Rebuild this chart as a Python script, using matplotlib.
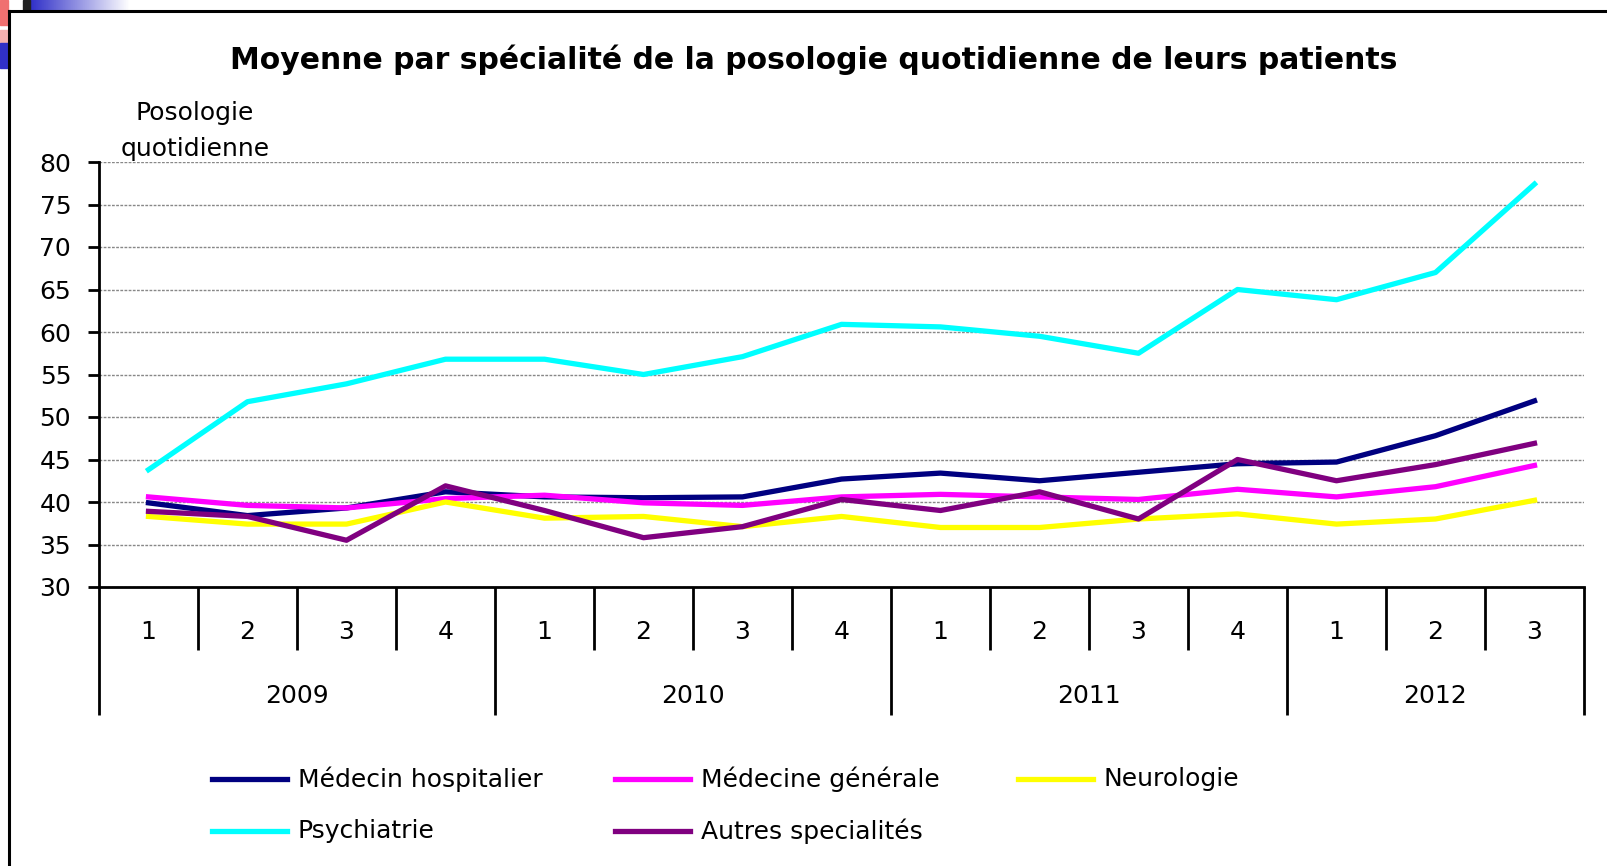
import matplotlib
matplotlib.use("Agg")
import matplotlib.pyplot as plt
import matplotlib.transforms as mtransforms
from matplotlib.lines import Line2D
from matplotlib.patches import Rectangle
import numpy as np

quarters = ["1", "2", "3", "4", "1", "2", "3", "4", "1", "2", "3", "4", "1", "2", "3"]
years = ["2009", "2010", "2011", "2012"]
year_sizes = [4, 4, 4, 3]

medecin_hosp = [39.9, 38.4, 39.3, 41.2, 40.6, 40.5, 40.6, 42.7, 43.4, 42.5, 43.5, 44.5, 44.7, 47.8, 51.9]
medecine_gen = [40.6, 39.6, 39.3, 40.4, 40.8, 39.9, 39.6, 40.6, 40.9, 40.6, 40.3, 41.5, 40.6, 41.8, 44.3]
neurologie = [38.3, 37.4, 37.4, 40.0, 38.1, 38.3, 37.1, 38.3, 37.0, 37.0, 38.0, 38.6, 37.4, 38.0, 40.2]
psychiatrie = [43.8, 51.8, 53.9, 56.8, 56.8, 55.0, 57.1, 60.9, 60.6, 59.5, 57.5, 65.0, 63.8, 67.0, 77.4]
autres = [38.9, 38.3, 35.5, 41.9, 39.0, 35.8, 37.1, 40.3, 39.0, 41.2, 38.0, 45.0, 42.5, 44.4, 46.9]

W, H = 1608, 866
font = "DejaVu Sans"
fs = 18

fig = plt.figure(figsize=(W / 100, H / 100), dpi=100)
ax = fig.add_axes([99 / W, 1 - 587 / H, (1584 - 99) / W, (587 - 162) / H])

x = np.arange(len(quarters))
lines = []
lines.append(ax.plot(x, medecin_hosp, color="#000080", lw=3.8, label="Médecin hospitalier")[0])
lines.append(ax.plot(x, medecine_gen, color="#FF00FF", lw=3.8, label="Médecine générale")[0])
lines.append(ax.plot(x, neurologie, color="#FFFF00", lw=3.8, label="Neurologie")[0])
lines.append(ax.plot(x, psychiatrie, color="#00FFFF", lw=3.8, label="Psychiatrie")[0])
lines.append(ax.plot(x, autres, color="#800080", lw=3.8, label="Autres specialités")[0])

ax.set_xlim(-0.5, len(quarters) - 0.5)
ax.set_ylim(30, 80)
ax.set_yticks(np.arange(30, 81, 5))
ax.yaxis.grid(True, color="#888888", linestyle=(0, (2, 1)), linewidth=1.0)
ax.set_axisbelow(True)
for s in ["top", "right"]:
    ax.spines[s].set_visible(False)
ax.spines["left"].set_linewidth(2)
ax.spines["bottom"].set_linewidth(2)
ax.tick_params(axis="y", direction="out", length=8, width=2, labelsize=fs, pad=12)
for lbl in ax.get_yticklabels():
    lbl.set_fontfamily(font)

# category separators: year boundaries long, quarter boundaries short
bounds_year = np.concatenate([[0], np.cumsum(year_sizes)]) - 0.5
bounds_q = [b - 0.5 for b in range(1, len(quarters)) if (b - 0.5) not in bounds_year]
ax.set_xticks(bounds_year)
ax.set_xticks(bounds_q, minor=True)
ax.set_xticklabels([])
ax.tick_params(axis="x", which="major", direction="out", length=92, width=2)
ax.tick_params(axis="x", which="minor", direction="out", length=45, width=2)

trans = mtransforms.blended_transform_factory(ax.transData, fig.transFigure)
for i, q in enumerate(quarters):
    ax.text(i, 1 - 632 / H, q, transform=trans, ha="center", va="center",
            fontsize=fs, family=font)
start = 0
for yr, n in zip(years, year_sizes):
    ax.text(start + (n - 1) / 2, 1 - 696 / H, yr, transform=trans, ha="center",
            va="center", fontsize=fs, family=font)
    start += n

fig.text(0.506, 1 - 60 / H, "Moyenne par spécialité de la posologie quotidienne de leurs patients",
         ha="center", va="center", fontsize=21.5, fontweight="bold", family=font)
fig.text(195 / W, 1 - 131 / H, "Posologie\nquotidienne", ha="center", va="center",
         fontsize=fs, family=font, linespacing=1.65)

# legend, laid out like the original (two rows, three columns)
leg_x = [212, 615, 1018]
leg_y = [779, 831]
for k, ln in enumerate(lines):
    r, c = divmod(k, 3)
    x0 = leg_x[c] / W
    y0 = 1 - leg_y[r] / H
    fig.add_artist(Line2D([x0, x0 + 75 / W], [y0, y0], color=ln.get_color(), lw=3.8,
                          transform=fig.transFigure))
    fig.text(x0 + 86 / W, y0, ln.get_label(), ha="left", va="center", fontsize=fs,
             family=font)

# slide frame and corner remnants
fig.add_artist(Line2D([9 / W, 9 / W], [0, 1 - 11 / H], color="black", lw=2.2,
                      transform=fig.transFigure))
fig.add_artist(Line2D([9 / W, 1], [1 - 11 / H, 1 - 11 / H], color="black", lw=2.2,
                      transform=fig.transFigure))
fig.add_artist(Rectangle((0, 1 - 25 / H), 8 / W, 25 / H, color="#f07070",
                         transform=fig.transFigure))
fig.add_artist(Rectangle((0, 1 - 43 / H), 8 / W, 13 / H, color="#f4b0b0",
                         transform=fig.transFigure))
fig.add_artist(Rectangle((0, 1 - 68 / H), 8 / W, 25 / H, color="#3030c8",
                         transform=fig.transFigure))
fig.add_artist(Rectangle((23 / W, 1 - 10 / H), 7 / W, 10 / H, color="#222222",
                         transform=fig.transFigure))
grad = np.linspace(0, 1, 100).reshape(1, -1)
gax = fig.add_axes([30 / W, 1 - 10 / H, 100 / W, 10 / H])
gax.imshow(grad, aspect="auto", cmap=matplotlib.colors.LinearSegmentedColormap.from_list(
    "g", ["#3030c8", "#ffffff"]))
gax.axis("off")

fig.savefig("out.png", dpi=100)
